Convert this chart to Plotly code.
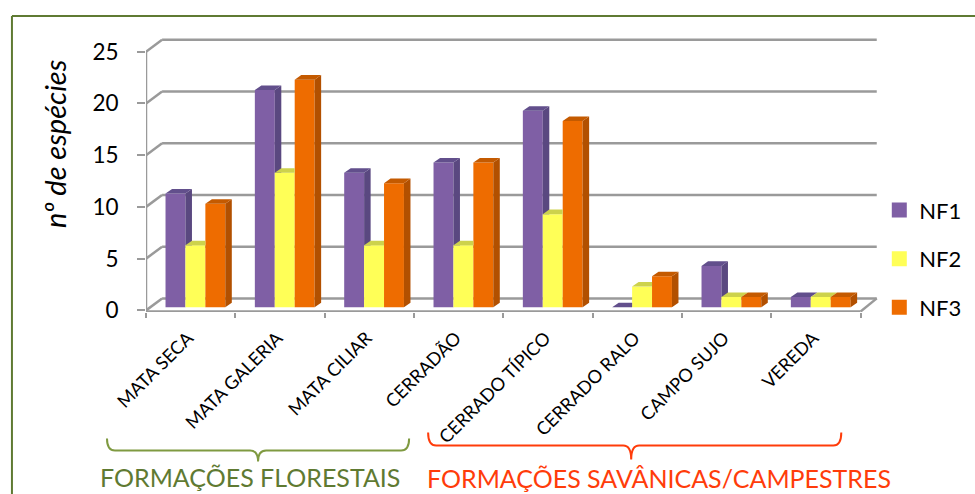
import plotly.graph_objects as go

# Values
CATEGORIES = ['MATA SECA', 'MATA GALERIA', 'MATA CILIAR', 'CERRADÃO',
              'CERRADO TÍPICO', 'CERRADO RALO', 'CAMPO SUJO', 'VEREDA']
NF1 = [11, 21, 13, 14, 19, 0, 4, 1]
NF2 = [6, 13, 6, 6, 9, 2, 1, 1]
NF3 = [10, 22, 12, 14, 18, 3, 1, 1]
SERIES_NAMES = ['NF1', 'NF2', 'NF3']
Y_TICKS = [0, 5, 10, 15, 20, 25]

FONT = 'Lato'
FRONT_COLORS = ['#7f5fa5', '#ffff57', '#ee6c00']
SIDE_COLORS = ['#5a4880', '#c4c84a', '#b25000']
TOP_COLORS = ['#624f8c', '#cdd24c', '#c45a00']
GRID_COLOR = '#9a9a9a'
GREEN = '#5f7a32'
RED = '#ff3c0a'

# Plot area in pixels, the axes run a bit past the chart so the 3D walls fit
WIDTH, HEIGHT = 975, 494
LEFT, RIGHT, TOP, BOTTOM = 146, 92.3, 30, 182.4
X_RANGE = [-0.5, 7.75]
Y_RANGE = [-0.155, 27.1]

# 3D look, in axis units
WALL_DX, WALL_DY = 0.18, 1.16
BAR_W = 0.223
BAR_SHIFT = 0.053
BAR_LIFT = 0.3
SIDE_DX, SIDE_DY = 0.073, 0.44
LABEL_SHIFT = -0.03


def px_x(x):
    return (x - LEFT) / (WIDTH - LEFT - RIGHT)


def px_y(y):
    return 1 - (y - TOP) / (HEIGHT - TOP - BOTTOM)


def brace_path(x0, x_tip, x1, y_top, y_mid, y_tip):
    """
    Path of a curly brace, from pixel positions to paper coordinates.
    """
    r = 8
    pts = [('M', x0, y_top), ('Q', x0, y_mid, x0 + r, y_mid), ('L', x_tip - r, y_mid),
           ('Q', x_tip, y_mid, x_tip, y_tip), ('Q', x_tip, y_mid, x_tip + r, y_mid),
           ('L', x1 - r, y_mid), ('Q', x1, y_mid, x1, y_top)]
    path = ''
    for p in pts:
        coords = [f'{px_x(p[i])},{px_y(p[i + 1])}' for i in range(1, len(p), 2)]
        path += p[0] + ' '.join(coords) + ' '
    return path


def bar_faces(values, next_values, k):
    """
    Side and top faces of one series. Parts hidden by the next bar are left out.
    """
    side_x, side_y, top_x, top_y = [], [], [], []
    for i, v in enumerate(values):
        left = i + BAR_SHIFT + (k - 1.5) * BAR_W
        right = left + BAR_W
        t = v + BAR_LIFT
        nxt = next_values[i] + BAR_LIFT if next_values else None
        if nxt is None or v > next_values[i]:
            low = BAR_LIFT if nxt is None else nxt
            low_r = low + SIDE_DY if nxt is None else low
            side_x += [right, right + SIDE_DX, right + SIDE_DX, right, right, None]
            side_y += [t, t + SIDE_DY, low_r, low, t, None]
        tip = right + SIDE_DX if nxt is None or v >= next_values[i] else right
        top_x += [left, left + SIDE_DX, tip, right, left, None]
        top_y += [t, t + SIDE_DY, t + SIDE_DY, t, t, None]
    return side_x, side_y, top_x, top_y


fig = go.Figure()
all_series = [NF1, NF2, NF3]

for k, values in enumerate(all_series):
    fig.add_trace(go.Bar(
        x=[i + BAR_SHIFT for i in range(len(CATEGORIES))],
        y=values,
        base=BAR_LIFT,
        name=SERIES_NAMES[k],
        showlegend=False,
        marker=dict(color=FRONT_COLORS[k], line=dict(width=0)),
    ))

for k, values in enumerate(all_series):
    next_values = all_series[k + 1] if k < 2 else None
    side_x, side_y, top_x, top_y = bar_faces(values, next_values, k)
    for xs, ys, color in [(side_x, side_y, SIDE_COLORS[k]), (top_x, top_y, TOP_COLORS[k])]:
        fig.add_trace(go.Scatter(x=xs, y=ys, mode='lines', fill='toself', fillcolor=color,
                                 line=dict(width=0), hoverinfo='skip', showlegend=False))

# legend entries only
for k, name in enumerate(SERIES_NAMES):
    fig.add_trace(go.Scatter(x=[None], y=[None], mode='markers', name=name, legendgroup=name,
                             marker=dict(symbol='square', size=15, color=FRONT_COLORS[k])))

shapes = []
grid_line = dict(color=GRID_COLOR, width=2.5)
for v in Y_TICKS:
    shapes.append(dict(type='line', xref='x', yref='y', layer='below', line=grid_line,
                       x0=-0.5, y0=v, x1=-0.5 + WALL_DX, y1=v + WALL_DY))
    shapes.append(dict(type='line', xref='x', yref='y', layer='below', line=grid_line,
                       x0=-0.5 + WALL_DX, y0=v + WALL_DY, x1=7.5 + WALL_DX, y1=v + WALL_DY))
# front axis lines and floor edge
shapes.append(dict(type='line', xref='x', yref='y', layer='below', line=grid_line,
                   x0=-0.5, y0=0, x1=-0.5, y1=25))
shapes.append(dict(type='line', xref='x', yref='y', layer='below', line=grid_line,
                   x0=-0.5, y0=-0.1, x1=7.5, y1=-0.1))
shapes.append(dict(type='line', xref='x', yref='y', layer='below', line=grid_line,
                   x0=7.5, y0=-0.1, x1=7.5 + WALL_DX, y1=WALL_DY))
# frame of the page
frame = dict(color=GREEN, width=2)
shapes.append(dict(type='line', xref='paper', yref='paper', line=frame,
                   x0=px_x(12), y0=px_y(16), x1=px_x(975), y1=px_y(16)))
shapes.append(dict(type='line', xref='paper', yref='paper', line=frame,
                   x0=px_x(12), y0=px_y(16), x1=px_x(12), y1=px_y(494)))
# braces
shapes.append(dict(type='path', xref='paper', yref='paper', line=dict(color='#7f9a41', width=2),
                   path=brace_path(107, 258, 409, 438, 450, 461)))
shapes.append(dict(type='path', xref='paper', yref='paper', line=dict(color=RED, width=2),
                   path=brace_path(428, 631, 841, 432, 445, 459)))

annotations = [
    dict(text='nº de espécies', xref='paper', yref='paper', x=px_x(54), y=px_y(144), showarrow=False,
         xanchor='center', yanchor='middle', textangle=-90,
         font=dict(family=FONT, size=29, color='black', style='italic')),
    dict(text='FORMAÇÕES FLORESTAIS', xref='paper', yref='paper', x=px_x(98), y=px_y(476),
         xanchor='left', yanchor='middle', showarrow=False, font=dict(family=FONT, size=25, color=GREEN)),
    dict(text='FORMAÇÕES SAVÂNICAS/CAMPESTRES', xref='paper', yref='paper', x=px_x(425), y=px_y(477),
         xanchor='left', yanchor='middle', showarrow=False, font=dict(family=FONT, size=25, color=RED)),
]

fig.update_layout(
    width=WIDTH, height=HEIGHT,
    margin=dict(l=LEFT, r=RIGHT, t=TOP, b=BOTTOM, autoexpand=False),
    plot_bgcolor='white', paper_bgcolor='white',
    barmode='group', bargap=1 - 3 * BAR_W, bargroupgap=0,
    shapes=shapes, annotations=annotations,
    legend=dict(x=px_x(879), y=px_y(189), xanchor='left', yanchor='top', tracegroupgap=17,
                font=dict(family=FONT, size=22, color='black'), bgcolor='rgba(0,0,0,0)'),
    xaxis=dict(range=X_RANGE, showgrid=False, zeroline=False, showline=False,
               tickmode='array', tickvals=[i + LABEL_SHIFT for i in range(len(CATEGORIES))], ticktext=CATEGORIES,
               tickangle=-45, ticks='', ticklabelstandoff=11,
               tickfont=dict(family=FONT, size=18.2, color='black'),
               minor=dict(tickmode='array', tickvals=[i - 0.5 for i in range(9)], ticks='outside',
                          ticklen=5, tickwidth=1.5, tickcolor=GRID_COLOR, showgrid=False)),
    yaxis=dict(range=Y_RANGE, showgrid=False, zeroline=False, showline=False,
               tickmode='array', tickvals=Y_TICKS, ticks='outside', ticklen=8, tickwidth=2,
               tickcolor=GRID_COLOR, ticklabelstandoff=14,
               tickfont=dict(family=FONT, size=22.5, color='black')),
)

fig.write_html("out.html", config=dict(displayModeBar=False),
               post_script="document.body.style.margin='0';")
